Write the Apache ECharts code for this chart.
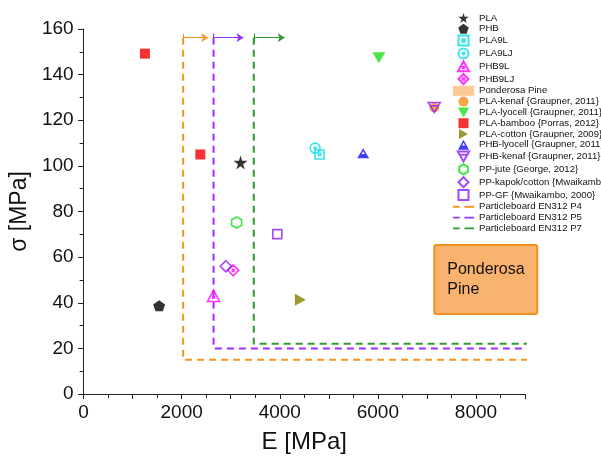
<!DOCTYPE html>
<html>
<head>
<meta charset="utf-8">
<script src="https://cdn.jsdelivr.net/npm/echarts@6/dist/echarts.min.js"></script>
<style>
  html, body { margin: 0; padding: 0; background: #fff; }
  #chart { width: 601px; height: 459px; }
</style>
</head>
<body>
<div id="chart"></div>
<script>
// 数据点 [E, sigma]
const PLA = [[3200, 101.5]];
const PHB = [[1540, 38.7]];
const PLA9L = [[4810, 105]];
const PLA9LJ = [[4720, 107.8]];
const PHB9L = [[2650, 43]];
const PHB9LJ = [[3050, 54.2]];
const PLA_kenaf = [[7150, 125.6]];
const PLA_lyocell = [[6020, 147.4]];
const PLA_bamboo = [[1250, 149.2], [2380, 105]];
const PLA_cotton = [[4420, 41.3]];
const PHB_lyocell = [[5700, 105.5]];
const PHB_kenaf = [[7150, 125.6]];
const PP_jute = [[3120, 75.2]];
const PP_kapok = [[2900, 56]];
const PP_GF = [[3950, 70.1]];

// Particleboard EN312 (E 下限, sigma 下限, 右端, 箭头终点)
const P4 = {E: 2030, s: 15, end: 9330, arrow: 2540};
const P5 = {E: 2650, s: 20, end: 9250, arrow: 3260};
const P7 = {E: 3470, s: 22, end: 9220, arrow: 4100};
const topY = 156.2;

// Ponderosa Pine 框
const boxE = [7150, 9250];
const boxS = [35.1, 65.3];

const xTicks = [0, 2000, 4000, 6000, 8000];

const myChart = echarts.init(document.getElementById('chart'));

const FONT = 'Liberation Sans, Arial, sans-serif';

// 符号
const STAR = 'path://M50,0 L61,35 L98,35 L68,57 L79,91 L50,70 L21,91 L32,57 L2,35 L39,35 Z';
const PENT = 'path://M50,0 L98,35 L79,92 L21,92 L2,35 Z';
const HEX = 'path://M50,0 L93,25 L93,75 L50,100 L7,75 L7,25 Z';
const SQ_DOT = 'path://M0,0 L100,0 L100,100 L0,100 Z M38,38 L62,38 L62,62 L38,62 Z';
const CIR_DOT = 'path://M0,50 A50,50 0 1,1 100,50 A50,50 0 1,1 0,50 Z M40,50 A10,10 0 1,1 60,50 A10,10 0 1,1 40,50 Z';
const TRI_DOT = 'path://M50,0 L100,90 L0,90 Z M44,52 L56,52 L56,64 L44,64 Z';
const DIA_DOT = 'path://M50,0 L100,50 L50,100 L0,50 Z M43,43 L57,43 L57,57 L43,57 Z';
const TRI_DOWN = 'path://M0,0 L100,0 L50,88 Z';
const TRI_RIGHT = 'path://M0,0 L90,50 L0,100 Z';
const TRI_HALF = 'path://M50,0 L100,90 L0,90 Z M50,26 L36,52 L64,52 Z';
const TRI_DOWN_LINE = 'path://M0,0 L100,0 L50,88 Z M18,28 L82,28';
const SQ = 'path://M0,0 L100,0 L100,100 L0,100 Z';
const DIA = 'path://M50,0 L100,50 L50,100 L0,50 Z';
// 图例里的虚线
const DASH_ICON = 'path://M0,4 L7,4 L7,6 L0,6 Z M12,4 L22,4 L22,6 L12,6 Z M0,0 L0,0 M0,10 L0,10';

function scatter(name, data, symbol, size, color, open) {
  return {
    name: name,
    type: 'scatter',
    data: data,
    symbol: symbol,
    symbolSize: size,
    z: 5,
    itemStyle: open
      ? {color: 'rgba(255,255,255,0)', borderColor: color, borderWidth: 1.6}
      : {color: color}
  };
}

function board(name, p, color) {
  return {
    name: name,
    type: 'line',
    clip: false,
    showSymbol: false,
    symbol: 'none',
    z: 3,
    data: [[p.E, topY], [p.E, p.s], [p.end, p.s]],
    lineStyle: {color: color, width: 2, type: [7, 5]},
    itemStyle: {color: color},
    markLine: {
      silent: true,
      animation: false,
      label: {show: false},
      lineStyle: {color: color, width: 1, type: 'solid'},
      symbolSize: 7,
      data: [
        [{coord: [p.E, topY], symbol: 'none'}, {coord: [p.arrow, topY], symbol: 'arrow'}],
        [{coord: [p.E, 158], symbol: 'none'}, {coord: [p.E, 154.3], symbol: 'none'}]
      ]
    }
  };
}

const option = {
  animation: false,
  backgroundColor: '#fff',
  textStyle: {fontFamily: FONT},
  grid: {left: 82, right: 76, top: 29, bottom: 63},
  legend: {
    orient: 'vertical',
    left: 453,
    top: 13,
    padding: 0,
    itemWidth: 21,
    itemHeight: 10,
    itemGap: 0.8,
    textStyle: {fontFamily: FONT, fontSize: 9.6, lineHeight: 10, color: '#111'},
    data: [
      'PLA', 'PHB', 'PLA9L', 'PLA9LJ', 'PHB9L', 'PHB9LJ',
      {name: 'Ponderosa Pine', icon: 'rect', itemStyle: {color: '#fcc896', borderWidth: 0}},
      'PLA-kenaf {Graupner, 2011}', 'PLA-lyocell {Graupner, 2011}', 'PLA-bamboo {Porras, 2012}',
      'PLA-cotton {Graupner, 2009}', 'PHB-lyocell {Graupner, 2011}', 'PHB-kenaf {Graupner, 2011}',
      'PP-jute {George, 2012}', 'PP-kapok/cotton {Mwaikambo, 2000}', 'PP-GF {Mwaikambo, 2000}',
      {name: 'Particleboard EN312 P4', icon: DASH_ICON},
      {name: 'Particleboard EN312 P5', icon: DASH_ICON},
      {name: 'Particleboard EN312 P7', icon: DASH_ICON}
    ]
  },
  xAxis: {
    type: 'value',
    min: 0,
    max: 9000,
    interval: 1000,
    name: 'E [MPa]',
    nameLocation: 'middle',
    nameGap: 36,
    nameTextStyle: {fontSize: 24, color: '#111', fontFamily: FONT},
    splitLine: {show: false},
    axisLine: {show: true, onZero: false, lineStyle: {color: '#222', width: 1}},
    axisTick: {show: true, length: 5, lineStyle: {color: '#222'}},
    minorTick: {show: true, splitNumber: 2, length: 4, lineStyle: {color: '#222'}},
    axisLabel: {
      fontSize: 19,
      color: '#111',
      margin: 9,
      formatter: function (v) { return xTicks.indexOf(v) >= 0 ? String(v) : ''; }
    }
  },
  yAxis: {
    type: 'value',
    min: 0,
    max: 160,
    interval: 20,
    name: 'σ [MPa]',
    nameLocation: 'middle',
    nameGap: 42,
    nameTextStyle: {fontSize: 23, color: '#111', fontFamily: FONT},
    splitLine: {show: false},
    axisLine: {show: true, onZero: false, lineStyle: {color: '#222', width: 1}},
    axisTick: {show: true, length: 5.5, lineStyle: {color: '#222'}},
    minorTick: {show: true, splitNumber: 2, length: 4, lineStyle: {color: '#222'}},
    axisLabel: {fontSize: 19, color: '#111', margin: 10}
  },
  series: [
    scatter('PLA', PLA, STAR, [14, 14], '#000', false),
    scatter('PHB', PHB, PENT, [12, 11], '#000', false),
    scatter('PLA9L', PLA9L, SQ_DOT, [9, 9], '#00e0e6', true),
    scatter('PLA9LJ', PLA9LJ, CIR_DOT, [10, 10], '#00e0e6', true),
    scatter('PHB9L', PHB9L, TRI_DOT, [12, 11], '#ff00ff', true),
    scatter('PHB9LJ', PHB9LJ, DIA_DOT, [11, 11], '#ff00ff', true),
    {
      name: 'Ponderosa Pine',
      type: 'custom',
      z: 2,
      itemStyle: {color: '#f9b46f'},
      data: [[boxE[0], boxS[1], boxE[1], boxS[0]]],
      renderItem: function (params, api) {
        const p1 = api.coord([api.value(0), api.value(1)]);
        const p2 = api.coord([api.value(2), api.value(3)]);
        return {
          type: 'group',
          children: [
            {
              type: 'rect',
              shape: {x: p1[0], y: p1[1], width: p2[0] - p1[0], height: p2[1] - p1[1], r: 2},
              style: {fill: '#f9b36e', stroke: '#f0901e', lineWidth: 2}
            },
            {
              type: 'text',
              style: {
                text: 'Ponderosa\nPine',
                x: p1[0] + 13,
                y: p1[1] + 15,
                font: '16px ' + FONT,
                fill: '#111',
                lineHeight: 19.5
              }
            }
          ]
        };
      }
    },
    scatter('PLA-kenaf {Graupner, 2011}', PLA_kenaf, 'circle', [10, 10], '#f7901e', false),
    scatter('PLA-lyocell {Graupner, 2011}', PLA_lyocell, TRI_DOWN, [13, 11], '#1de01d', false),
    scatter('PLA-bamboo {Porras, 2012}', PLA_bamboo, SQ, [10, 10], '#f00000', false),
    scatter('PLA-cotton {Graupner, 2009}', PLA_cotton, TRI_RIGHT, [11, 12], '#7f7f00', false),
    scatter('PHB-lyocell {Graupner, 2011}', PHB_lyocell, TRI_HALF, [12, 10], '#1010f0', false),
    scatter('PHB-kenaf {Graupner, 2011}', PHB_kenaf, TRI_DOWN_LINE, [12, 10], '#8a1cff', true),
    scatter('PP-jute {George, 2012}', PP_jute, HEX, [10, 11], '#10e010', true),
    scatter('PP-kapok/cotton {Mwaikambo, 2000}', PP_kapok, DIA, [11, 11], '#8a1cff', true),
    scatter('PP-GF {Mwaikambo, 2000}', PP_GF, SQ, [9, 9], '#8a1cff', true),
    board('Particleboard EN312 P4', P4, '#f7931e'),
    board('Particleboard EN312 P5', P5, '#9b30ff'),
    board('Particleboard EN312 P7', P7, '#2e9a2e')
  ]
};

myChart.setOption(option);
</script>
</body>
</html>
